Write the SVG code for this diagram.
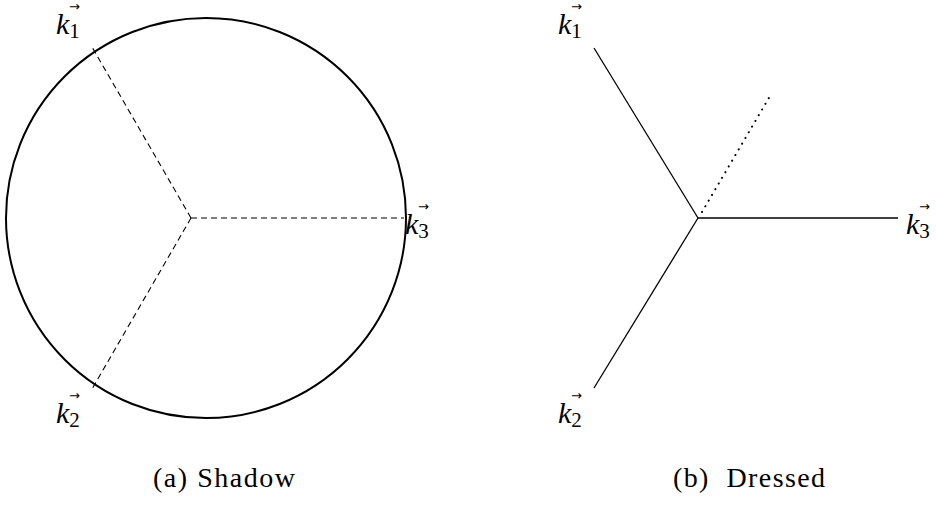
<svg xmlns="http://www.w3.org/2000/svg" width="936" height="505" viewBox="0 0 936 505">
<style>
.lbl{font-family:'Liberation Serif','DejaVu Serif','Times New Roman',serif;font-size:30px;fill:#000}
.k{font-style:italic}
.sub{font-size:21px;font-style:normal}
.arr{font-family:'DejaVu Sans',sans-serif;font-size:13px}
.cap{font-family:'Liberation Serif','DejaVu Serif','Times New Roman',serif;font-size:28px;fill:#000}
.solid{stroke:#000;stroke-width:1.3;fill:none}
.dash{stroke:#000;stroke-width:1.1;stroke-dasharray:6 4;fill:none}
.dot{stroke:#000;stroke-width:2;stroke-dasharray:0.1 6.5;stroke-linecap:round;fill:none}
</style>
<g id="connectors">
<line class="dash" x1="191" y1="218" x2="92" y2="47"/>
<line class="dash" x1="191" y1="218" x2="92" y2="389"/>
<line class="dash" x1="191" y1="218" x2="404" y2="218"/>
<line class="solid" x1="698" y1="218" x2="594" y2="48"/>
<line class="solid" x1="698" y1="218" x2="594" y2="388"/>
<line class="solid" x1="698" y1="218" x2="898" y2="218"/>
<line class="dot" x1="702" y1="212" x2="770" y2="96"/>
</g>
<g id="shadow-circle"><circle cx="206" cy="218" r="200" stroke="#000" stroke-width="2" fill="none"/></g>
<g id="a-k1"><text class="lbl" x="56" y="34"><tspan class="k">k</tspan><tspan class="sub" dy="4">1</tspan></text><text class="arr" x="69" y="11">→</text></g>
<g id="a-k2"><text class="lbl" x="56" y="423"><tspan class="k">k</tspan><tspan class="sub" dy="4">2</tspan></text><text class="arr" x="69" y="400">→</text></g>
<g id="a-k3"><text class="lbl" x="405" y="234"><tspan class="k">k</tspan><tspan class="sub" dy="4">3</tspan></text><text class="arr" x="418" y="211">→</text></g>
<g id="b-k1"><text class="lbl" x="558" y="34"><tspan class="k">k</tspan><tspan class="sub" dy="4">1</tspan></text><text class="arr" x="571" y="11">→</text></g>
<g id="b-k2"><text class="lbl" x="558" y="423"><tspan class="k">k</tspan><tspan class="sub" dy="4">2</tspan></text><text class="arr" x="571" y="400">→</text></g>
<g id="b-k3"><text class="lbl" x="906" y="234"><tspan class="k">k</tspan><tspan class="sub" dy="4">3</tspan></text><text class="arr" x="919" y="211">→</text></g>
<g id="caption-a"><text class="cap" x="153" y="487" textLength="142" lengthAdjust="spacing">(a) Shadow</text></g>
<g id="caption-b"><text class="cap" x="673" y="487" xml:space="preserve" textLength="152" lengthAdjust="spacing">(b)  Dressed</text></g>
</svg>
